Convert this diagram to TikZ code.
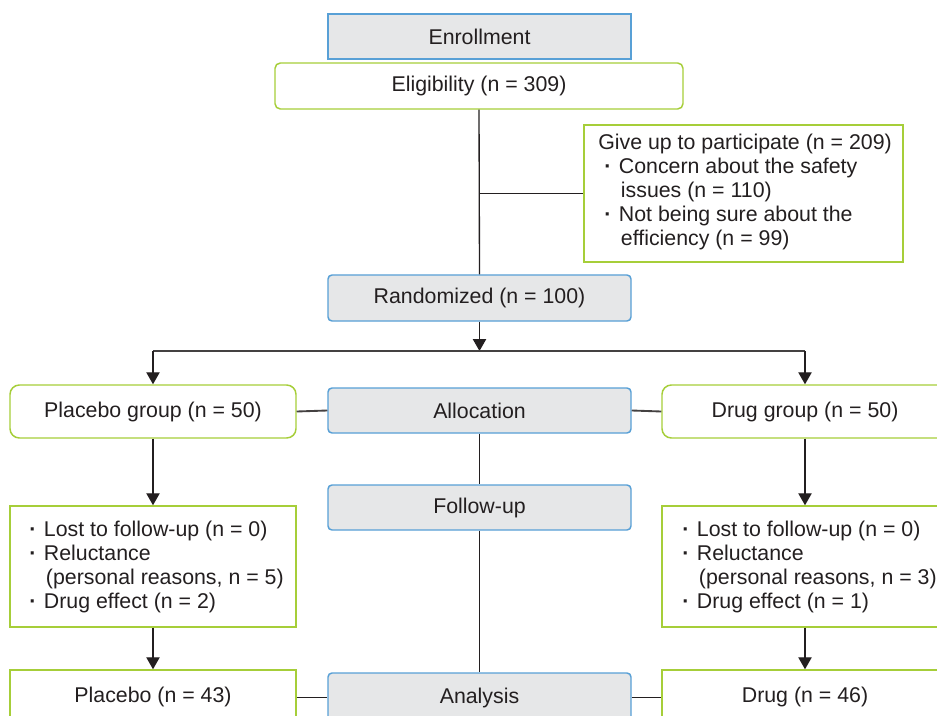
\documentclass[tikz,border=0pt]{standalone}
\usepackage{fontspec}
\setmainfont{Liberation Sans}
\usetikzlibrary{fit,arrows.meta}
\definecolor{bluebd}{RGB}{88,160,214}
\definecolor{grayfill}{RGB}{230,231,232}
\definecolor{greenbd}{RGB}{166,206,57}
\definecolor{ink}{RGB}{35,31,32}
\newcommand\bul{\makebox[11pt][l]{\textbf{·}}}
\newcommand\ind{\hspace*{12.5pt}}
\begin{document}
\begin{tikzpicture}[x=0.75pt,y=-0.75pt,
  every node/.style={font=\fontsize{16}{18}\selectfont, text=ink},
  bbox/.style={draw=bluebd, fill=grayfill, line width=1.1pt, inner sep=0pt},
  gbox/.style={draw=greenbd, fill=white, line width=1.1pt, inner sep=0pt},
  conn/.style={draw=ink, line width=1pt},
  arr/.style={conn, -{Triangle[width=10pt,length=9pt]}},
  hconn/.style={draw=ink!85, line width=1.4pt},
  txt/.style={align=left, inner sep=0pt}]
\clip (0,0) rectangle (937,716);
\fill[white] (0,0) rectangle (937,716);

% boxes
\node[bbox, fit={(328,14)(631,59)}, label={center:Enrollment}] (enroll) {};
\node[gbox, rounded corners=4pt, fit={(275,63)(683,109)}, label={center:Eligibility (n = 309)}] (elig) {};
\node[gbox, fit={(584,125)(903,262)}] (giveup) {};
\node[txt, anchor=west] (giveupT) at (598,192) {Give up to participate (n = 209)\\
  \hspace*{4.5pt}\bul Concern about the safety\\
  \hspace*{4.5pt}\ind issues (n = 110)\\
  \hspace*{4.5pt}\bul Not being sure about the\\
  \hspace*{4.5pt}\ind efficiency (n = 99)};
\node[bbox, rounded corners=3pt, fit={(328,275)(631,321)}, label={center:Randomized (n = 100)}] (rand) {};
\coordinate (split) at (rand.south |- 0,351);

\node[gbox, rounded corners=7pt, fit={(10,385)(296,438)}, label={center:Placebo group (n = 50)}] (pg) {};
\node[bbox, rounded corners=3pt, fit={(328,388)(631,433)}, label={center:Allocation}] (alloc) {};
\node[gbox, rounded corners=7pt, fit={(662,385)(948,438)}, label={center:Drug group (n = 50)}] (dg) {};

\node[bbox, rounded corners=3pt, fit={(328,485)(631,530)}, label={center:Follow-up}] (fu) {};

\node[gbox, fit={(10,506)(296,627)}] (pr) {};
\node[txt, anchor=west] (prT) at (29,567) {\bul Lost to follow-up (n = 0)\\
  \bul Reluctance\\
  \ind (personal reasons, n = 5)\\
  \bul Drug effect (n = 2)};
\node[gbox, fit={(662,506)(948,627)}] (dr) {};
\node[txt, anchor=west] (drT) at (682,567) {\bul Lost to follow-up (n = 0)\\
  \bul Reluctance\\
  \ind (personal reasons, n = 3)\\
  \bul Drug effect (n = 1)};

\node[gbox, fit={(10,670)(296,724)}, label={center:Placebo (n = 43)}] (pf) {};
\node[bbox, rounded corners=3pt, fit={(328,673)(631,722)}, label={center:Analysis}] (an) {};
\node[gbox, fit={(662,670)(948,724)}, label={center:Drug (n = 46)}] (df) {};

% connectors
\draw[conn] (elig.south) -- (rand.north);
\draw[conn] (elig.south |- giveup.west) -- (giveup.west);
\draw[arr] (rand.south) -- (split);
\draw[hconn] (pg.north |- split) -- (dg.north |- split);
\draw[arr] (pg.north |- split) -- (pg.north);
\draw[arr] (dg.north |- split) -- (dg.north);
\draw[hconn] (pg.east) -- (alloc.west);
\draw[hconn] (alloc.east) -- (dg.west);
\draw[conn] (alloc.south) -- (fu.north);
\draw[conn] (fu.south) -- (an.north);
\draw[arr] (pg.south) -- (pr.north);
\draw[arr] (dg.south) -- (dr.north);
\draw[arr] (pr.south) -- (pf.north);
\draw[arr] (dr.south) -- (df.north);
\draw[conn] (pf.east |- an.west) -- (an.west);
\draw[conn] (an.east) -- (df.west |- an.east);
\end{tikzpicture}
\end{document}
